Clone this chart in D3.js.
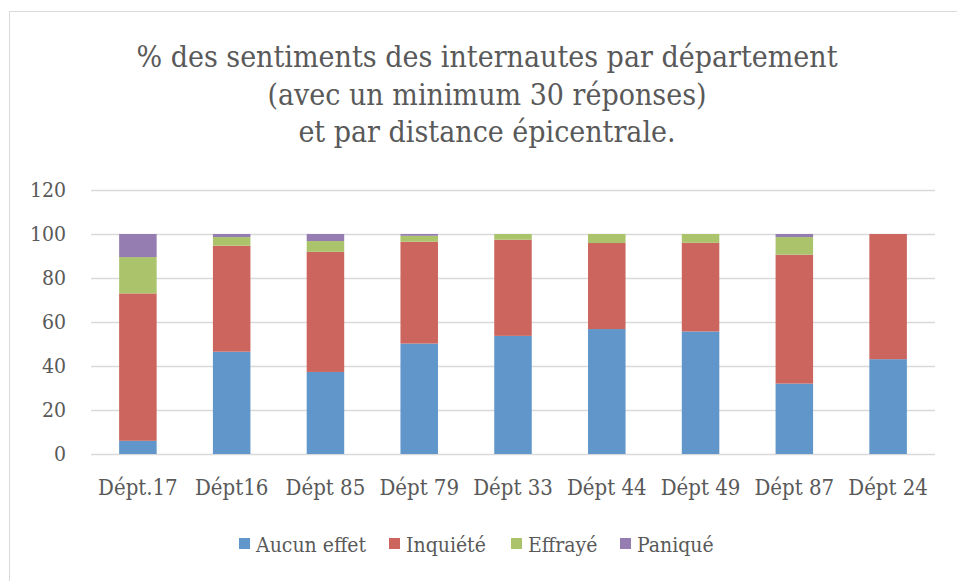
<!DOCTYPE html>
<html>
<head>
<meta charset="utf-8">
<script src="https://cdn.jsdelivr.net/npm/d3@7"></script>
<style>
  body { margin: 0; background: #fff; }
  svg { display: block; }
  svg text { font-family: "DejaVu Serif Condensed", "DejaVu Serif", "Liberation Serif", serif; }
</style>
</head>
<body>
<svg id="chart" width="957" height="581"></svg>
<script>
const departements = ["Dépt.17", "Dépt16", "Dépt 85", "Dépt 79", "Dépt 33", "Dépt 44", "Dépt 49", "Dépt 87", "Dépt 24"];
const seriesNames = ["Aucun effet", "Inquiété", "Effrayé", "Paniqué"];
const aucunEffet = [6, 46.5, 37.3, 50.2, 53.7, 56.8, 55.7, 32.0, 43.1];
const inquiete   = [67, 48.2, 54.6, 46.3, 43.7, 39.1, 40.3, 58.6, 56.9];
const effraye    = [16.5, 3.9, 4.9, 2.7, 2.6, 4.1, 4.0, 8.0, 0];
const panique    = [10.5, 1.4, 3.2, 0.8, 0, 0, 0, 1.4, 0];
const yTicks = [0, 20, 40, 60, 80, 100, 120];
const colors = ["#6096c9", "#cc655d", "#abc46c", "#957db2"];
const titleLines = ["% des sentiments des internautes par département", "(avec un minimum 30 réponses)", "et par distance épicentrale."];

const svg = d3.select("#chart");
const margin = { left: 91, right: 22, top: 190, bottom: 127 };
const width = 957, height = 581;

// chart frame
svg.append("rect")
    .attr("x", 9.5).attr("y", 11.5)
    .attr("width", 1000).attr("height", 1000)
    .attr("fill", "none")
    .attr("stroke", "#d9d9d9");

const rows = departements.map((d, i) => ({
    dept: d,
    "Aucun effet": aucunEffet[i],
    "Inquiété": inquiete[i],
    "Effrayé": effraye[i],
    "Paniqué": panique[i]
}));

const x = d3.scaleBand()
    .domain(departements)
    .range([margin.left, width - margin.right])
    .paddingInner(0.6)
    .paddingOuter(0.3);

const y = d3.scaleLinear()
    .domain([0, 120])
    .range([height - margin.bottom, margin.top]);

const color = d3.scaleOrdinal().domain(seriesNames).range(colors);

// gridlines
svg.append("g")
    .selectAll("line")
    .data(yTicks)
    .enter().append("line")
    .attr("x1", margin.left)
    .attr("x2", width - margin.right)
    .attr("y1", d => Math.round(y(d)) + 0.5)
    .attr("y2", d => Math.round(y(d)) + 0.5)
    .attr("stroke", "#d9d9d9")
    .attr("stroke-width", 1.5);

// y axis labels
const yAxis = svg.append("g")
    .attr("transform", `translate(${margin.left},0)`)
    .call(d3.axisLeft(y).tickValues(yTicks).tickSize(0).tickPadding(25));
yAxis.select(".domain").remove();
yAxis.selectAll("text")
    .attr("font-size", 21)
    .attr("fill", "#595959")
    .attr("font-family", null);

// stacked bars
const stack = d3.stack().keys(seriesNames)(rows);
svg.append("g")
    .selectAll("g")
    .data(stack)
    .enter().append("g")
    .attr("fill", d => color(d.key))
    .selectAll("rect")
    .data(d => d)
    .enter().append("rect")
    .attr("x", d => x(d.data.dept))
    .attr("width", x.bandwidth())
    .attr("y", d => y(d[1]))
    .attr("height", d => y(d[0]) - y(d[1]));

// x axis labels
const xAxis = svg.append("g")
    .attr("transform", `translate(0,${height - margin.bottom})`)
    .call(d3.axisBottom(x).tickSize(0).tickPadding(25));
xAxis.select(".domain").remove();
xAxis.selectAll("text")
    .attr("font-size", 22)
    .attr("fill", "#595959");

// title
svg.append("g")
    .selectAll("text")
    .data(titleLines)
    .enter().append("text")
    .attr("x", 487)
    .attr("y", (d, i) => 67 + i * 37.5)
    .attr("text-anchor", "middle")
    .attr("font-size", 30)
    .attr("fill", "#595959")
    .text(d => d);

// legend
const legendX = [239, 389, 511, 620];
const legend = svg.append("g")
    .selectAll("g")
    .data(seriesNames)
    .enter().append("g")
    .attr("transform", (d, i) => `translate(${legendX[i]},538)`);
legend.append("rect")
    .attr("width", 11).attr("height", 11)
    .attr("fill", d => color(d));
legend.append("text")
    .attr("x", 17)
    .attr("y", 14)
    .attr("font-size", 21)
    .attr("fill", "#595959")
    .text(d => d);
</script>
</body>
</html>
